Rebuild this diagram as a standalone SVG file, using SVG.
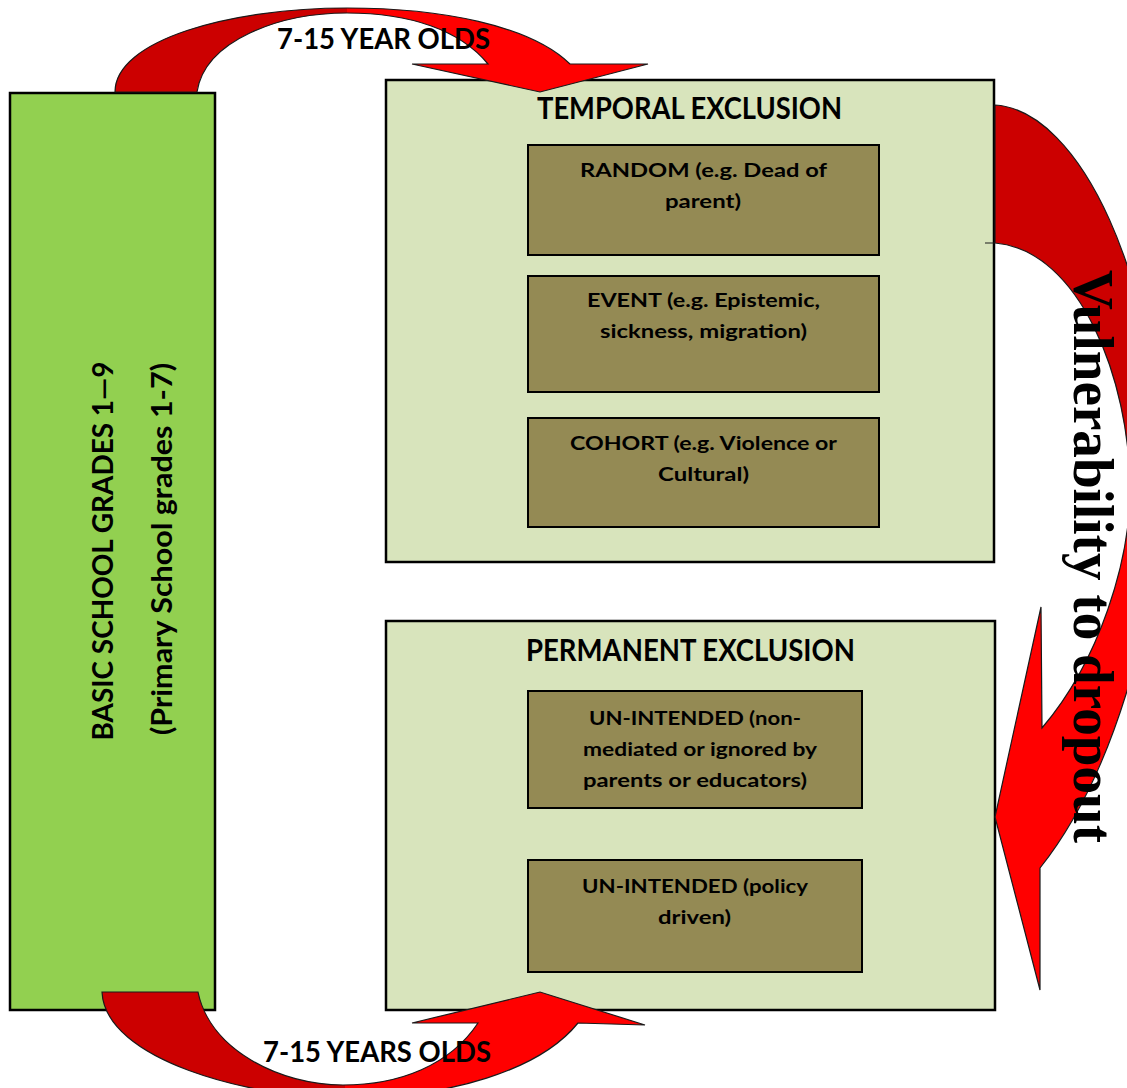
<svg xmlns="http://www.w3.org/2000/svg" width="1127" height="1088" viewBox="0 0 1127 1088">
<style>
.box{stroke:#000;stroke-width:2.5}
.grade{fill:#92D050}
.zone{fill:#D8E4BC}
.cause{fill:#948A54;stroke:#000;stroke-width:2}
.t{font-family:Lato,"Open Sans","Liberation Sans",sans-serif;font-weight:bold;fill:#000;text-anchor:middle}
.title{font-size:30px}
.inner{font-size:19.5px}
.side{font-size:29px}
.arc{font-size:29px}
.vul{font-family:"Liberation Serif","DejaVu Serif",serif;font-weight:bold;font-size:56px;fill:#000}
.arrow{stroke:#1a1a1a;stroke-width:1.2;stroke-linejoin:miter}
</style>
<defs>
<linearGradient id="gTop" gradientUnits="userSpaceOnUse" x1="115" y1="0" x2="648" y2="0">
<stop offset="0" stop-color="#CC0000"/><stop offset="0.435" stop-color="#CC0000"/><stop offset="0.436" stop-color="#FF0000"/><stop offset="1" stop-color="#FF0000"/>
</linearGradient>
<linearGradient id="gBot" gradientUnits="userSpaceOnUse" x1="102" y1="0" x2="645" y2="0">
<stop offset="0" stop-color="#CC0000"/><stop offset="0.447" stop-color="#CC0000"/><stop offset="0.448" stop-color="#FF0000"/><stop offset="1" stop-color="#FF0000"/>
</linearGradient>
<linearGradient id="gRight" gradientUnits="userSpaceOnUse" x1="0" y1="105" x2="0" y2="990">
<stop offset="0" stop-color="#CC0000"/><stop offset="0.435" stop-color="#CC0000"/><stop offset="0.436" stop-color="#FF0000"/><stop offset="1" stop-color="#FF0000"/>
</linearGradient>
</defs>
<rect width="1127" height="1088" fill="#fff"/>

<g id="basic-school">
<rect class="box grade" x="10" y="93" width="205" height="917"/>
<text class="t side" transform="translate(113,551) rotate(-90)" textLength="379" lengthAdjust="spacingAndGlyphs">BASIC SCHOOL GRADES 1—9</text>
<text class="t side" transform="translate(172,549) rotate(-90)" textLength="372" lengthAdjust="spacingAndGlyphs">(Primary School grades 1-7)</text>
</g>

<g id="temporal-exclusion">
<rect class="box zone" x="386" y="80" width="608" height="482"/>
<text class="t title" x="689.5" y="119" textLength="305" lengthAdjust="spacingAndGlyphs">TEMPORAL EXCLUSION</text>
</g>
<g id="random">
<rect class="cause" x="528" y="145" width="351" height="110"/>
<text class="t inner" x="703.5" y="177" textLength="247" lengthAdjust="spacingAndGlyphs">RANDOM  (e.g. Dead of</text>
<text class="t inner" x="703" y="208" textLength="76" lengthAdjust="spacingAndGlyphs">parent)</text>
</g>
<g id="event">
<rect class="cause" x="528" y="276" width="351" height="116"/>
<text class="t inner" x="703.5" y="307" textLength="233" lengthAdjust="spacingAndGlyphs">EVENT (e.g. Epistemic,</text>
<text class="t inner" x="703.5" y="338" textLength="207" lengthAdjust="spacingAndGlyphs">sickness, migration)</text>
</g>
<g id="cohort">
<rect class="cause" x="528" y="418" width="351" height="109"/>
<text class="t inner" x="703.5" y="450" textLength="267" lengthAdjust="spacingAndGlyphs">COHORT (e.g. Violence or</text>
<text class="t inner" x="703.5" y="481" textLength="91" lengthAdjust="spacingAndGlyphs">Cultural)</text>
</g>

<g id="permanent-exclusion">
<rect class="box zone" x="386" y="621" width="609" height="389"/>
<text class="t title" x="690.5" y="661" textLength="329" lengthAdjust="spacingAndGlyphs">PERMANENT EXCLUSION</text>
</g>
<g id="unintended-mediated">
<rect class="cause" x="528" y="691" width="334" height="117"/>
<text class="t inner" x="695" y="725" textLength="212" lengthAdjust="spacingAndGlyphs">UN-INTENDED (non-</text>
<text class="t inner" x="700" y="756" textLength="234" lengthAdjust="spacingAndGlyphs">mediated or ignored by</text>
<text class="t inner" x="695" y="787" textLength="224" lengthAdjust="spacingAndGlyphs">parents or educators)</text>
</g>
<g id="unintended-policy">
<rect class="cause" x="528" y="860" width="334" height="112"/>
<text class="t inner" x="695" y="893" textLength="226" lengthAdjust="spacingAndGlyphs">UN-INTENDED (policy</text>
<text class="t inner" x="694.5" y="924" textLength="73" lengthAdjust="spacingAndGlyphs">driven)</text>
</g>

<g id="connectors">
<path class="arrow" fill="url(#gTop)" d="M115,92 C115,40 230,8 347,8 C440,8 530,25 570,64 L648,64 L540,92 L412,64 L488,64 C460,30 410,13 347,13 C280,13 205,40 197,92 Z"/>
<path class="arrow" fill="url(#gBot)" d="M102,992 C105,1060 250,1098 345,1098 C450,1098 540,1070 578,1023 L645,1025 L540,992 L412,1023 L478,1023 C450,1065 400,1085 343,1085 C280,1085 210,1050 198,992 Z"/>
<path class="arrow" fill="url(#gRight)" d="M995,105 C1080,110 1160,280 1160,480 C1160,620 1110,780 1040,868 L1040,990 L995,817 L1041,607 L1042,728 C1100,660 1130,560 1130,490 C1130,380 1080,250 995,243 L985,243 L995,243 Z"/>
<text class="t arc" x="383.5" y="49" textLength="213" lengthAdjust="spacingAndGlyphs">7-15 YEAR OLDS</text>
<text class="t arc" x="377" y="1062" textLength="228" lengthAdjust="spacingAndGlyphs">7-15 YEARS OLDS</text>
<text class="vul" transform="translate(1074,270) rotate(90)" textLength="573" lengthAdjust="spacingAndGlyphs">Vulnerability to dropout</text>
</g>
</svg>
